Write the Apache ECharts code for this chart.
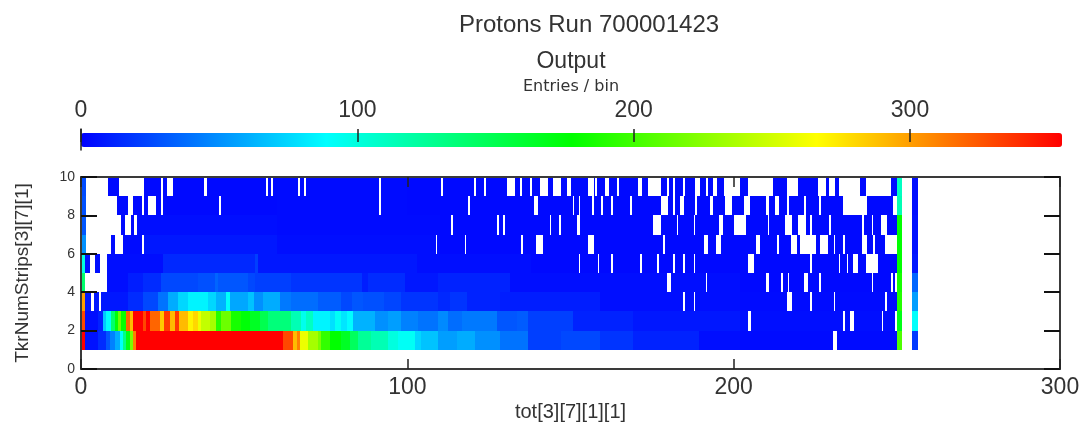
<!DOCTYPE html>
<html><head><meta charset="utf-8">
<style>html,body{margin:0;padding:0;background:#fff}#c{width:1091px;height:424px}</style>
<script src="https://cdn.jsdelivr.net/npm/echarts@6/dist/echarts.min.js"></script>
</head><body><div id="c"></div>
<script>
// Each span: [tot start, tot end, entries per bin]. One array per TkrNumStrips row.
const row1 = [[0,1.1,355],[1.1,5.2,6],[5.2,7.8,15],[7.8,9,30],[9,10.3,45],[10.3,11.8,60],[11.8,12.9,90],[12.9,13.9,130],[13.9,14.9,170],[14.9,15.9,220],[15.9,17,310],[17,61.9,355],[61.9,65,330],[65,66.2,290],[66.2,67.2,310],[67.2,69.5,260],[69.5,72.6,235],[72.6,73.6,220],[73.6,76.2,195],[76.2,79.8,178],[79.8,82.3,165],[82.3,84.9,145],[84.9,88.9,125],[88.9,94,115],[94,97.1,100],[97.1,102.3,92],[102.3,104.3,75],[104.3,109.4,68],[109.4,115.1,55],[115.1,120.7,60],[120.7,128.4,50],[128.4,137,40],[137,147,22],[147,159,25],[159,169,18],[169,189.5,12],[189.5,202,5],[202,250,4],[250,251.7,205],[254.8,256.6,20]];
const row2 = [[0,1.1,330],[1.1,5.2,5],[5.2,6.7,12],[6.7,7.8,70],[7.8,9.3,90],[9.3,10.3,140],[10.3,11.3,175],[11.3,12.4,215],[12.4,13.9,180],[13.9,14.9,320],[14.9,15.9,290],[15.9,19,355],[19,20,330],[20,21,355],[21,24.1,320],[24.1,25.4,285],[25.4,27.2,335],[27.2,28.7,290],[28.7,30,335],[30,32.8,290],[32.8,34.3,270],[34.3,35.9,280],[35.9,36.9,260],[36.9,39.4,245],[39.4,41.5,235],[41.5,43,190],[43,45.9,215],[45.9,49.1,185],[49.1,51.7,175],[51.7,54.7,165],[54.7,57.3,150],[57.3,64.5,135],[64.5,67.5,115],[67.5,69.1,95],[69.1,71.2,110],[71.2,76.2,85],[76.2,77.8,78],[77.8,79.8,92],[79.8,81.4,80],[81.4,83.5,88],[83.5,90,62],[90,94,50],[94,98.2,55],[98.2,103.3,45],[103.3,109.4,40],[109.4,112.6,48],[112.6,116.7,38],[116.7,127.4,42],[127.4,133.5,30],[133.5,137,32],[137,150.9,22],[150.9,169,12],[169,202,8],[202,250,5],[250,251.7,170],[254.8,256.6,90]];
const row3 = [[0,1.1,300],[1.1,14.4,8],[14.4,19,15],[19,23.6,25],[23.6,26.7,40],[26.7,29.7,60],[29.7,32.8,75],[32.8,39,85],[39,41.5,75],[41.5,44.5,62],[44.5,45.8,90],[45.8,51.3,58],[51.3,52.9,68],[52.9,55.8,50],[55.8,60.9,60],[60.9,64.5,42],[64.5,72.6,38],[72.6,79.8,32],[79.8,82.9,25],[82.9,86.4,30],[86.4,93,28],[93,98.2,24],[98.2,109.4,18],[109.4,113,14],[113,118.2,18],[118.2,128.4,12],[128.4,159,10],[159,202,5],[202,250,4],[250,251.7,190],[254.8,256.6,55]];
const row4 = [[0,1.3,140],[8.1,14.4,5],[14.4,19,10],[19,24.6,15],[24.6,35.9,25],[35.9,41,28],[41,42,35],[42,51.3,30],[51.3,53.2,25],[53.2,64.5,22],[64.5,86,18],[86,88,10],[88,99.2,15],[99.2,109.4,8],[109.4,131.4,12],[131.4,202,5],[202,250,3],[250,251.7,185],[254.8,256.6,35]];
const row5 = [[0,1.2,100],[1.2,25.2,5],[25.2,53.3,14],[53.3,54.3,22],[54.3,102.9,8],[102.9,138,5],[138,250,3],[250,251.7,178],[254.8,256.6,8]];
const row6 = [[0,1.5,50],[1.5,19,4],[19,60,8],[60,110,5],[110,250,3],[250,251.7,178],[254.8,256.6,6]];
const row7 = [[0,1.5,30],[1.5,17,3],[17,60,5],[60,110,4],[110,250,3],[250,251.7,178],[254.8,256.6,6]];
const row8 = [[0,1.5,28],[1.5,60,3],[60,100,4],[100,250,3],[250,251.7,115],[254.8,256.6,5]];
const row9 = [[0,1.5,26],[1.5,60,3],[60,100,4],[100,250,3],[250,251.7,110],[254.8,256.6,5]];

// Empty (white) tot ranges in each row.
const gaps1 = [[230.3,231.8]];
const gaps2 = [[204.5,205.2],[233.4,234],[235.8,236.9],[245.4,245.9],[249.3,250]];
const gaps3 = [[3.2,4],[5.5,6.2],[184.6,185.1],[187.7,188.3],[216.3,218],[223.4,223.9],[230.6,231.2],[246.4,246.9]];
const gaps4 = [[1.3,8.1],[179.7,180.8],[191.4,191.9],[209.8,210.9],[214.4,215.1],[216.5,217],[221.6,222.8],[226.2,226.8],[242.3,242.8],[248.2,248.7],[249.4,250]];
const gaps5 = [[2.7,4.2],[5.7,8.1],[152.5,153],[158.3,158.8],[162.3,162.9],[171.3,171.8],[176.6,177.1],[181.3,181.9],[184.6,185.1],[187.7,188.3],[204.5,206.2],[223.4,223.9],[232.2,232.7],[234.6,235.1],[236.5,238.2],[240.6,244.1]];
const gaps6 = [[1.5,9.3],[10.5,12.9],[18.7,19.3],[108.7,109.2],[117.6,118.1],[134.7,135.3],[139.3,141.7],[155.4,157.1],[178.4,178.9],[191,192],[194.5,196.1],[206.9,208],[213.4,213.9],[217.6,219.3],[220.4,225.1],[226.4,228.8],[230.6,231.2],[233.4,234],[239.4,240.9],[242.8,243.3],[246.4,250]];
const gaps7 = [[1.5,12.3],[13.5,15.2],[16.2,17.1],[113.4,114],[127.6,128.2],[129.3,129.9],[143.6,144.1],[146.5,147.1],[152,153],[175.4,177.8],[182.5,183],[187.7,188.3],[195.6,196.8],[200.2,203.8],[210.4,210.9],[215.7,218],[219.8,222.2],[223.4,223.9],[229.3,229.8],[239.4,240],[242.3,242.8],[245.3,247.1]];
const gaps8 = [[1.5,11.1],[14.5,15.8],[18.7,19.3],[20.5,22.9],[24.6,25.2],[42.4,43],[91.4,92],[118.7,119.3],[138.8,139.9],[150.7,151.2],[152.5,153],[156.6,157.1],[159.4,160],[162.4,163],[168.3,168.9],[177.8,180],[181.3,181.9],[183.7,184.9],[188.2,188.8],[192.7,193.8],[197.3,199.4],[203.3,205],[210,210.9],[212.7,214],[216.4,217],[221.6,222.2],[226.2,226.9],[233.4,241],[248.9,250]];
const gaps9 = [[1.5,8.2],[11.6,19.3],[24.6,25.2],[26.5,28.3],[37.7,38.7],[56.6,57.2],[58.3,58.9],[66.6,67.2],[68.4,69],[91.4,92],[110.4,111],[120.4,121],[123.4,124],[130.5,133],[134.6,135.2],[137.6,138.2],[140.6,143],[144.6,147],[148.8,150],[155.4,157.1],[157.5,158.1],[160.7,161.8],[164.3,164.9],[170.7,171.9],[173.7,177.8],[179.5,180.1],[181.3,181.9],[184.5,185.1],[188.2,189.8],[191.4,192],[193.7,195],[196.9,202],[204.5,212.2],[216.3,219.8],[225.7,228.2],[229.3,231.2],[232.3,238.7],[240.6,248.2]];

const rows = [row1,row2,row3,row4,row5,row6,row7,row8,row9];
const gaps = [gaps1,gaps2,gaps3,gaps4,gaps5,gaps6,gaps7,gaps8,gaps9];
const barTicks = [0,100,200,300];

const cells = [];
rows.forEach((spans,i)=>{
  spans.forEach(([a,b,v])=>{
    let s = a;
    gaps[i].forEach(([g0,g1])=>{
      if (g1<=s || g0>=b) return;
      if (g0>s) cells.push([s,g0,i+1,v]);
      s = Math.max(s,g1);
    });
    if (s<b) cells.push([s,b,i+1,v]);
  });
});

const ink = '#333', frame = {lineStyle:{color:'#3a3a3a',width:2}};
const font = 'Liberation Sans, Arial, sans-serif';
const chart = echarts.init(document.getElementById('c'));
const bareX = (o)=>Object.assign({type:'value',min:0,max:300,interval:100,z:10,splitLine:{show:false},axisLine:Object.assign({show:true,onZero:false},frame),axisTick:{show:true,inside:true,length:10,lineStyle:{color:'#222',width:1.5}}},o);
const bareY = (o)=>Object.assign({type:'value',min:0,max:10,interval:2,z:10,splitLine:{show:false},axisLine:Object.assign({show:true,onZero:false},frame),axisTick:{show:true,inside:true,length:16,lineStyle:{color:'#111',width:2}}},o);
chart.setOption({
  animation:false,
  backgroundColor:'#fff',
  title:[
    {text:'Protons Run 700001423',left:589,top:13,padding:0,textAlign:'center',textStyle:{fontFamily:font,fontSize:24,fontWeight:'normal',color:ink}},
    {text:'Output',left:571,top:50,padding:0,textAlign:'center',textStyle:{fontFamily:font,fontSize:23,fontWeight:'normal',color:ink}},
    {text:'Entries / bin',left:571,top:79,padding:0,textAlign:'center',textStyle:{fontFamily:'DejaVu Sans',fontSize:16,fontWeight:'normal',color:ink}}
  ],
  grid:[
    {left:81,right:31,top:177,height:192,containLabel:false},
    {left:81,width:981,top:129,height:21,containLabel:false}
  ],
  xAxis:[
    bareX({gridIndex:0,position:'bottom',name:'tot[3][7][1][1]',nameLocation:'center',nameGap:33,nameTextStyle:{fontFamily:font,fontSize:20,color:ink},axisLabel:{fontFamily:font,fontSize:23,color:ink,margin:7}}),
    bareX({gridIndex:0,position:'top',axisLabel:{show:false}}),
    {gridIndex:1,type:'value',min:0,max:355,interval:100,position:'top',z:10,splitLine:{show:false},axisLine:{show:false,onZero:false},axisTick:{show:true,inside:true,length:13,customValues:barTicks,lineStyle:{color:'#222',width:1.5}},axisLabel:{fontFamily:font,fontSize:23,color:ink,margin:7,customValues:barTicks}}
  ],
  yAxis:[
    bareY({gridIndex:0,position:'left',name:'TkrNumStrips[3][7][1]',nameLocation:'center',nameGap:49,nameTextStyle:{fontFamily:font,fontSize:19,color:ink},axisLabel:{fontFamily:font,fontSize:14,color:ink,margin:6}}),
    bareY({gridIndex:0,position:'right',axisLabel:{show:false}}),
    {gridIndex:1,type:'value',min:0,max:1,position:'left',z:10,splitLine:{show:false},axisTick:{show:false},axisLabel:{show:false},axisLine:{show:true,onZero:false,lineStyle:{color:'#222',width:1.5}}}
  ],
  visualMap:{
    type:'continuous',seriesIndex:0,dimension:3,min:0,max:355,orient:'horizontal',
    left:81,top:133,padding:0,itemWidth:14,itemHeight:981,showLabel:false,calculable:false,text:null,
    hoverLink:false,
    inRange:{color:['#0000ff','#00ffff','#00ff00','#ffff00','#ff0000']}
  },
  series:[{
    type:'custom',xAxisIndex:0,yAxisIndex:0,coordinateSystem:'cartesian2d',
    data:cells,encode:{x:[0,1],y:2},
    renderItem:(p,api)=>{
      const a = api.coord([api.value(0),api.value(2)+1]);
      const b = api.coord([api.value(1),api.value(2)]);
      const x = Math.round(a[0]), y = Math.round(a[1]);
      return {type:'rect',shape:{x:x,y:y,width:Math.max(1,Math.round(b[0])-x),height:Math.round(b[1])-y},style:{fill:api.visual('color')}};
    }
  }]
});
</script></body></html>
